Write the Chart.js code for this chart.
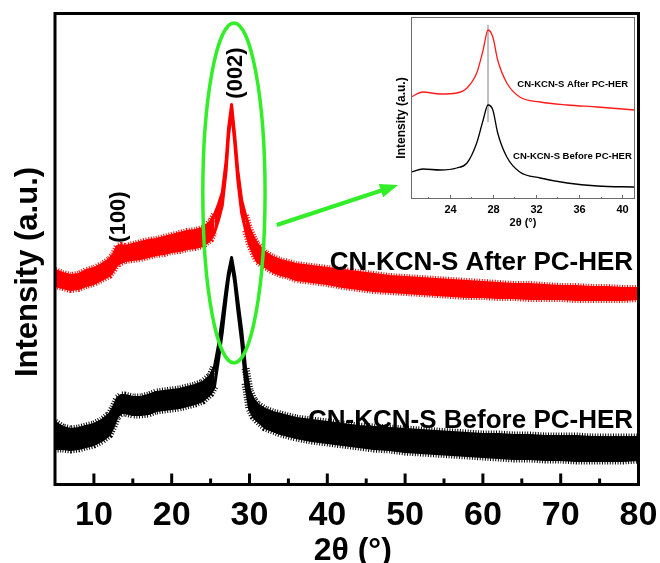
<!DOCTYPE html>
<html>
<head>
<meta charset="utf-8">
<script src="https://cdn.jsdelivr.net/npm/chart.js@4.4.1/dist/chart.umd.min.js"></script>
<style>
  body { margin: 0; background: #fff; }
  #wrap { position: relative; width: 660px; height: 563px; }
  #main { position: absolute; left: 0; top: 0; }
  #inset { position: absolute; left: 395px; top: 15px; }
</style>
</head>
<body>
<div id="wrap">
  <canvas id="main" width="660" height="563"></canvas>
  <canvas id="inset" width="245" height="215"></canvas>
</div>
<script>
// 2theta positions (deg)
const angles = [5,6,7,8,9,10,11,12,12.5,13,13.5,14,15,16,17,18,19,20,21,22,23,24,
    25,25.5,26,26.5,27,27.3,27.7,28.1,28.5,29,29.5,30,30.5,31,32,33,34,35,36,
    38,40,42,44,46,48,50,52,54,56,58,60,62,64,66,68,70,72,74,76,78,80];

// top / bottom of the dense core of the noisy band, arbitrary intensity units
const afterHigh = [214,211,209,210,214,216,220,225, 230,238,239,238,
    240,242,244,245,247,249,251,253,254,256,
    263,270,280,292,324,356,380,349,314,284,269,256,247,240,
    232,227,224,222,220,
    218,216,214,212,210,208,207,206,205,204,203,202,201,200,200,199,198,198,197,197,196,196];
const afterLow = [199,197,195,196,199,201,205,209, 214,220,222,224,
    225,226,228,230,231,233,234,236,237,239,
    245,252,264,279,314,348,374,342,304,271,254,240,231,223,
    218,213,210,208,205,
    203,201,198,196,194,193,192,191,190,189,188,188,187,187,186,186,186,185,185,185,185,186];

const beforeHigh = [62,57,55,56,58,60,64,70, 77,86,89,89,
    87,87,89,92,93,94,95,97,99,102,
    109,118,139,166,196,212,227,209,184,154,116,94,85,80,
    75,72,70,68,66,
    64,62,60,58,57,56,55,54,53,52,51,50,50,49,49,48,48,48,47,47,47,47];
const beforeLow = [36,36,35,36,38,40,44,50, 58,68,72,72,
    70,70,71,74,75,76,77,79,81,84,
    91,98,124,152,187,206,222,202,174,142,101,76,68,64,
    57,54,51,49,47,
    44,42,40,38,36,35,33,32,31,30,29,28,27,26,26,25,25,24,24,24,24,25];

const xTicks = [10,20,30,40,50,60,70,80];
const xMinor = [15,25,35,45,55,65,75];
const peakZone = [25.5, 29.5]; // pic (002) : trait net, sans franges

// inset (zoom on the (002) peak)
const insetAngles = [20.4,21.5,23.1,24.65,25.6,26.5,27.1,27.55,28.0,28.45,29.3,30.5,32.4,34.9,37.7,41.2];
const insetAfter  = [102,107,105,106,111,126,149,169,162,139,116,102,97,94,92,89];
const insetBefore = [27,30,29,31,36,56,79,94,89,66,42,27,21,16,13,12];
const insetTicks = [24,28,32,36,40];
const insetMinor = [22,26,30,34,38];
const peakLine = [27.55, 77, 174]; // position, bottom, top

const FONT = '"Liberation Sans", Arial, sans-serif';
const GREEN = "rgb(50,238,40)";

function pts(xs, ys) {
    return xs.map((x, i) => ({ x: x, y: ys[i] }));
}

function fringeColor(color) {
    return c => (c.p1.parsed.x > peakZone[0] && c.p0.parsed.x < peakZone[1]) ? "rgba(0,0,0,0)" : color;
}

// bande pleine + bords en pointillés épais pour l'aspect "bruit"
function band(label, high, low, color, fringe) {
    const seg = { borderColor: fringeColor(color) };
    return [
        { label: label, data: pts(angles, high), borderColor: color, borderWidth: fringe, borderDash: [1, 1.6], pointRadius: 0, fill: false, segment: seg },
        { label: label, data: pts(angles, low), borderColor: color, borderWidth: fringe, borderDash: [1, 1.6], pointRadius: 0, fill: "-1", backgroundColor: color, segment: seg },
        { label: label, data: pts(angles, high), borderColor: color, borderWidth: 3, pointRadius: 0, fill: false },
        { label: label, data: pts(angles, low), borderColor: color, borderWidth: 3, pointRadius: 0, fill: false },
    ];
}

function text(ctx, str, px, py, font, align, base, rot) {
    ctx.save();
    ctx.translate(px, py);
    if (rot) ctx.rotate(rot);
    ctx.font = font;
    ctx.fillStyle = "#000";
    ctx.textAlign = align;
    ctx.textBaseline = base;
    ctx.fillText(str, 0, 0);
    ctx.restore();
}

// frame, inward ticks, labels, ellipse and arrow of the main plot
const mainDeco = {
    id: "mainDeco",
    afterDatasetsDraw(chart) {
        const { ctx, chartArea: a } = chart;
        const x = chart.scales.x, y = chart.scales.y;
        ctx.save();

        // green ellipse round the (002) peak
        const cx = x.getPixelForValue(28), rx = x.getPixelForValue(32) - cx;
        const cy = y.getPixelForValue(291.5), ry = cy - y.getPixelForValue(461.5);
        ctx.strokeStyle = GREEN;
        ctx.lineWidth = 3.5;
        ctx.beginPath();
        ctx.ellipse(cx, cy, rx, ry, 0, 0, 2 * Math.PI);
        ctx.stroke();

        // green arrow towards the inset
        const x0 = x.getPixelForValue(33.5), y0 = y.getPixelForValue(259.5);
        const x1 = x.getPixelForValue(49.1), y1 = y.getPixelForValue(299.5);
        const len = Math.hypot(x1 - x0, y1 - y0);
        const ux = (x1 - x0) / len, uy = (y1 - y0) / len;
        const bx = x1 - ux * 18, by = y1 - uy * 18;
        ctx.lineWidth = 4;
        ctx.beginPath();
        ctx.moveTo(x0, y0);
        ctx.lineTo(bx + ux * 2, by + uy * 2);
        ctx.stroke();
        ctx.fillStyle = GREEN;
        ctx.beginPath();
        ctx.moveTo(x1, y1);
        ctx.lineTo(bx - uy * 7, by + ux * 7);
        ctx.lineTo(bx + uy * 7, by - ux * 7);
        ctx.closePath();
        ctx.fill();

        // frame
        ctx.strokeStyle = "#000";
        ctx.lineWidth = 3;
        ctx.strokeRect(a.left, a.top, a.width, a.height);

        // ticks pointing inwards
        xTicks.forEach(t => {
            const px = x.getPixelForValue(t);
            ctx.beginPath();
            ctx.moveTo(px, a.bottom);
            ctx.lineTo(px, a.bottom - 11);
            ctx.stroke();
            text(ctx, String(t), px, a.bottom + 40, "bold 34px " + FONT, "center", "alphabetic");
        });
        xMinor.forEach(t => {
            const px = x.getPixelForValue(t);
            ctx.beginPath();
            ctx.moveTo(px, a.bottom);
            ctx.lineTo(px, a.bottom - 6);
            ctx.stroke();
        });

        // axis titles
        text(ctx, "2\u03b8 (\u00b0)", (a.left + a.right) / 2 + 6, 560, "bold 32px " + FONT, "center", "alphabetic");
        text(ctx, "Intensity (a.u.)", 28, 272, "bold 31px " + FONT, "center", "middle", -Math.PI / 2);

        // peak indices and sample names
        text(ctx, "(100)", x.getPixelForValue(13.2), y.getPixelForValue(267.5), "bold 22px " + FONT, "center", "middle", -Math.PI / 2);
        text(ctx, "(002)", x.getPixelForValue(28.2), y.getPixelForValue(411.5), "bold 22px " + FONT, "center", "middle", -Math.PI / 2);
        text(ctx, "CN-KCN-S After PC-HER", x.getPixelForValue(79.3), y.getPixelForValue(214.5), "bold 26px " + FONT, "right", "alphabetic");
        text(ctx, "CN-KCN-S Before PC-HER", x.getPixelForValue(79.3), y.getPixelForValue(56.5), "bold 26px " + FONT, "right", "alphabetic");

        ctx.restore();
    },
};

const insetDeco = {
    id: "insetDeco",
    afterDatasetsDraw(chart) {
        const { ctx, chartArea: a } = chart;
        const x = chart.scales.x, y = chart.scales.y;
        ctx.save();
        ctx.strokeStyle = "#6b6b6b";
        ctx.lineWidth = 1;
        ctx.strokeRect(a.left + 0.5, a.top + 0.5, a.width - 1, a.height - 1);

        insetTicks.forEach(t => {
            const px = Math.round(x.getPixelForValue(t)) + 0.5;
            ctx.beginPath();
            ctx.moveTo(px, a.bottom);
            ctx.lineTo(px, a.bottom - 4);
            ctx.stroke();
            text(ctx, String(t), px, a.bottom + 14, "bold 11px " + FONT, "center", "alphabetic");
        });
        insetMinor.forEach(t => {
            const px = Math.round(x.getPixelForValue(t)) + 0.5;
            ctx.beginPath();
            ctx.moveTo(px, a.bottom);
            ctx.lineTo(px, a.bottom - 2);
            ctx.stroke();
        });

        text(ctx, "2\u03b8 (\u00b0)", (a.left + a.right) / 2, a.bottom + 27, "bold 11px " + FONT, "center", "alphabetic");
        text(ctx, "Intensity (a.u.)", 7, (a.top + a.bottom) / 2 + 10, "bold 12px " + FONT, "center", "middle", -Math.PI / 2);
        text(ctx, "CN-KCN-S After PC-HER", x.getPixelForValue(40.56), y.getPixelForValue(115), "bold 9.5px " + FONT, "right", "middle");
        text(ctx, "CN-KCN-S Before PC-HER", x.getPixelForValue(40.9), y.getPixelForValue(43), "bold 9.5px " + FONT, "right", "middle");
        ctx.restore();
    },
};

// fond blanc sous le graphique principal
const whiteBg = {
    id: "whiteBg",
    beforeDraw(chart) {
        const ctx = chart.ctx;
        ctx.save();
        ctx.fillStyle = "#fff";
        ctx.fillRect(0, 0, chart.width, chart.height);
        ctx.restore();
    },
};

new Chart(document.getElementById("main"), {
    type: "line",
    data: {
        datasets: [
            ...band("CN-KCN-S Before PC-HER", beforeHigh, beforeLow, "#000000", 8),
            ...band("CN-KCN-S After PC-HER", afterHigh, afterLow, "#ff0000", 7),
        ],
    },
    options: {
        responsive: false,
        animation: false,
        devicePixelRatio: 1,
        layout: { padding: { left: 55, top: 13.5, right: 21.5, bottom: 78.5 } },
        elements: { line: { tension: 0, borderJoinStyle: "round" } },
        plugins: { legend: { display: false }, tooltip: { enabled: false } },
        scales: {
            x: { type: "linear", min: 5, max: 80, display: false },
            y: { min: 0, max: 471, display: false },
        },
    },
    plugins: [whiteBg, mainDeco],
});

new Chart(document.getElementById("inset"), {
    type: "line",
    data: {
        datasets: [
            { data: pts(insetAngles, insetAfter), borderColor: "#ff1a1a", borderWidth: 1.3, pointRadius: 0, cubicInterpolationMode: "monotone" },
            { data: pts(insetAngles, insetBefore), borderColor: "#000000", borderWidth: 1.3, pointRadius: 0, cubicInterpolationMode: "monotone" },
            { data: [{ x: peakLine[0], y: peakLine[1] }, { x: peakLine[0], y: peakLine[2] }], borderColor: "#808080", borderWidth: 1, pointRadius: 0 },
        ],
    },
    options: {
        responsive: false,
        animation: false,
        devicePixelRatio: 1,
        layout: { padding: { left: 16, top: 2, right: 5, bottom: 31 } },
        plugins: { legend: { display: false }, tooltip: { enabled: false } },
        scales: {
            x: { type: "linear", min: 20.4, max: 41.2, display: false },
            y: { min: 0, max: 182, display: false },
        },
    },
    plugins: [insetDeco],
});
</script>
</body>
</html>
